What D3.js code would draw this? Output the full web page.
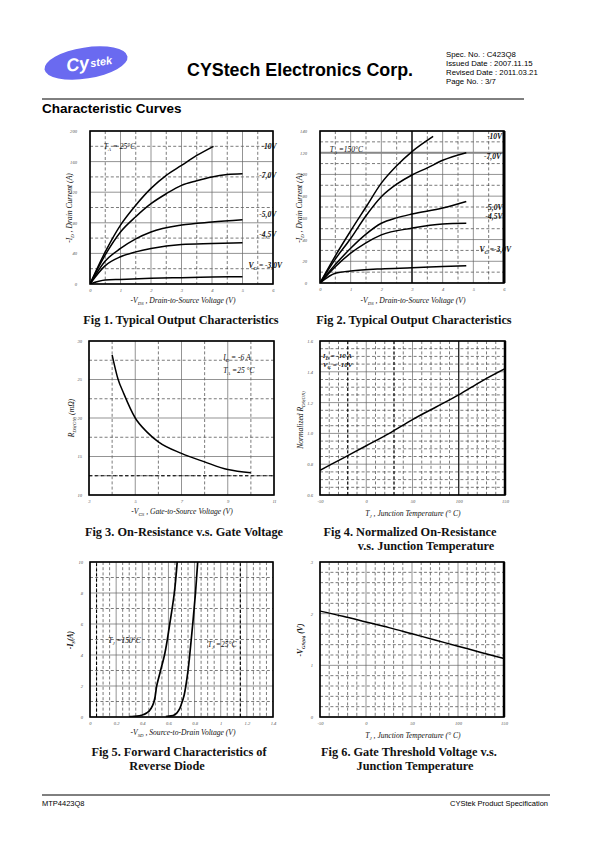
<!DOCTYPE html>
<html><head><meta charset="utf-8">
<script src="https://cdn.jsdelivr.net/npm/d3@7/dist/d3.min.js"></script>
<style>
html,body{margin:0;padding:0;background:#fff;}
svg{display:block;}
</style></head>
<body><div id="chart"></div>
<script>
// ---------------- DATA ----------------
// Fig 1: Typical Output Characteristics (TA=25°C)
const fig1Vds10 = [0, 0.5, 1, 1.5, 2, 2.5, 3, 3.5, 4.05];
const fig1Id10  = [0, 42, 77, 103, 125, 142, 155, 168, 180];
const fig1Vds7  = [0, 0.5, 1, 1.5, 2, 2.5, 3, 3.5, 4, 4.5, 5];
const fig1Id7   = [0, 38, 68, 88, 105, 118, 129, 135, 140, 143, 144];
const fig1Vds5  = [0, 0.5, 1, 1.5, 2, 3, 4, 5];
const fig1Id5   = [0, 30, 46.5, 59, 68, 77, 81, 84];
const fig1Vds45 = [0, 0.5, 1, 1.5, 2, 3, 4, 5];
const fig1Id45  = [0, 24, 35.6, 42, 46.5, 51.7, 53, 54];
const fig1Vds3  = [0, 0.5, 1, 2, 3, 4, 5];
const fig1Id3   = [0, 5.2, 6, 7.4, 8.3, 9, 9.6];
const fig1Labels = ["-10V", "-7,0V", "-5,0V", "-4,5V", "-3,0V"];
const fig1XTicks = [0, 1, 2, 3, 4, 5, 6];
const fig1YTicks = [0, 40, 80, 120, 160, 200];

// Fig 2: Typical Output Characteristics (TA=150°C)
const fig2Vds10 = [0, 0.5, 1, 1.5, 2, 2.5, 3, 3.69];
const fig2Id10  = [0, 25, 48, 70, 92, 108, 121, 135];
const fig2Vds7  = [0, 0.5, 1, 1.5, 2, 2.5, 3, 3.5, 4, 4.77];
const fig2Id7   = [0, 22, 41, 62, 79.5, 91, 99.5, 106, 113, 120];
const fig2Vds5  = [0, 0.5, 1, 1.5, 2, 2.5, 3, 4, 4.77];
const fig2Id5   = [0, 17, 32, 45, 55, 60, 63.5, 69, 75];
const fig2Vds45 = [0, 0.5, 1, 1.5, 2, 3, 4, 4.77];
const fig2Id45  = [0, 15, 27.5, 37, 44.3, 50.5, 54.4, 55];
const fig2Vds3  = [0, 0.5, 1, 2, 3, 4, 4.77];
const fig2Id3   = [0, 9, 11, 13, 14, 15.2, 16];
const fig2XTicks = [0, 1, 2, 3, 4, 5, 6];
const fig2YTicks = [0, 20, 40, 60, 80, 100, 120, 140];

// Fig 3: On-Resistance vs Gate Voltage
const fig3Vgs  = [4, 4.25, 4.5, 5, 5.5, 6, 7, 8, 9, 10];
const fig3Rds  = [28.2, 25.1, 23.2, 20, 18.2, 16.9, 15.4, 14.3, 13.3, 12.9];
const fig3XTicks = [3, 5, 7, 9, 11];
const fig3YTicks = [10, 15, 20, 25, 30];

// Fig 4: Normalized On-Resistance vs Junction Temperature
const fig4Tj   = [-50, -25, 0, 25, 50, 75, 100, 125, 150];
const fig4Rn   = [0.76, 0.84, 0.92, 1.0, 1.09, 1.17, 1.25, 1.34, 1.42];
const fig4XTicks = [-50, 0, 50, 100, 150];
const fig4YTicks = [0.6, 0.8, 1.0, 1.2, 1.4, 1.6];

// Fig 5: Forward Characteristics of Reverse Diode
const fig5Vsd150 = [0.30, 0.36, 0.40, 0.44, 0.47, 0.49, 0.51, 0.54, 0.57, 0.61, 0.645, 0.667];
const fig5Is150  = [0.02, 0.06, 0.13, 0.3, 0.6, 1.0, 2.0, 3.0, 4.0, 6.0, 8.0, 10];
const fig5Vsd25  = [0.58, 0.62, 0.65, 0.68, 0.70, 0.72, 0.733, 0.75, 0.763, 0.786, 0.807, 0.824];
const fig5Is25   = [0.02, 0.07, 0.16, 0.45, 0.85, 1.4, 2, 3, 4, 6, 8, 10];
const fig5XTicks = [0, 0.2, 0.4, 0.6, 0.8, 1, 1.2, 1.4];
const fig5YTicks = [0, 2, 4, 6, 8, 10];

// Fig 6: Gate Threshold Voltage vs Junction Temperature
const fig6Tj   = [-50, -25, 0, 25, 50, 75, 100, 125, 150];
const fig6Vth  = [2.05, 1.95, 1.84, 1.73, 1.61, 1.49, 1.37, 1.25, 1.13];
const fig6XTicks = [-50, 0, 50, 100, 150];
const fig6YTicks = [0, 1, 2, 3];

// ---------------- DRAWING ----------------
const W = 595, H = 842;
const svg = d3.select("#chart").append("svg").attr("width", W).attr("height", H);
const SERIF = "'Liberation Serif','DejaVu Serif',serif";
const SANS = "'Liberation Sans',Arial,sans-serif";

// Header
const logo = svg.append("g").attr("transform", "translate(86,63) rotate(-9)");
logo.append("ellipse").attr("rx", 42).attr("ry", 15.5).attr("fill", "#6a6af0");
logo.append("text").attr("x", -20).attr("y", 6).attr("fill", "#fff")
  .attr("font-family", SANS).attr("font-weight", "bold").attr("font-size", 18)
  .attr("font-style", "italic").text("Cy");
logo.append("text").attr("x", 4).attr("y", 5).attr("fill", "#fff")
  .attr("font-family", SANS).attr("font-weight", "bold").attr("font-size", 11)
  .attr("font-style", "italic").text("stek");
svg.append("text").attr("x", 187).attr("y", 76).attr("font-family", SANS)
  .attr("font-weight", "bold").attr("font-size", 18).attr("textLength", 226)
  .attr("lengthAdjust", "spacingAndGlyphs").text("CYStech Electronics Corp.");
const specLines = ["Spec. No. : C423Q8", "Issued Date : 2007.11.15", "Revised Date : 2011.03.21", "Page No. : 3/7"];
svg.append("g").selectAll("text").data(specLines).join("text")
  .attr("x", 446).attr("y", (d, i) => 57 + i * 9)
  .attr("font-family", SANS).attr("font-size", 7.8).text(d => d);
svg.append("line").attr("x1", 42).attr("x2", 524).attr("y1", 99).attr("y2", 99)
  .attr("stroke", "#000").attr("stroke-width", 1);
svg.append("text").attr("x", 42).attr("y", 113).attr("font-family", SANS)
  .attr("font-weight", "bold").attr("font-size", 13.5).text("Characteristic Curves");

// Footer
svg.append("line").attr("x1", 42).attr("x2", 550).attr("y1", 795).attr("y2", 795)
  .attr("stroke", "#000").attr("stroke-width", 1);
svg.append("text").attr("x", 42).attr("y", 806).attr("font-family", SANS)
  .attr("font-size", 7.5).text("MTP4423Q8");
svg.append("text").attr("x", 548).attr("y", 806).attr("text-anchor", "end")
  .attr("font-family", SANS).attr("font-size", 7.5).text("CYStek Product Specification");

// helper: rich text with subscripts; parts = [[text, isSub], ...]
function rich(sel, parts, subSize) {
  parts.forEach((p, i) => {
    const t = sel.append("tspan").text(p[0]);
    if (p[1]) t.attr("font-size", subSize || 5).attr("dy", 2);
    else if (i > 0 && parts[i - 1][1]) t.attr("dy", -2);
  });
  return sel;
}

function range(a, b, step) {
  const out = [];
  for (let v = a; v <= b + step / 1000; v += step) out.push(+v.toFixed(6));
  return out;
}

function panel(cfg) {
  const g = svg.append("g");
  const x = d3.scaleLinear().domain(cfg.xDomain).range([cfg.left, cfg.right]);
  const y = d3.scaleLinear().domain(cfg.yDomain).range([cfg.bottom, cfg.top]);
  const grid = g.append("g");
  grid.append("g").selectAll("line").data(cfg.xMinor).join("line")
    .attr("x1", d => x(d)).attr("x2", d => x(d)).attr("y1", cfg.top).attr("y2", cfg.bottom)
    .attr("stroke", "#222").attr("stroke-width", 0.6).attr("stroke-dasharray", "3,2.2");
  grid.append("g").selectAll("line").data(cfg.yMinor).join("line")
    .attr("x1", cfg.left).attr("x2", cfg.right).attr("y1", d => y(d)).attr("y2", d => y(d))
    .attr("stroke", "#222").attr("stroke-width", 0.6).attr("stroke-dasharray", "3,2.2");
  grid.append("g").selectAll("line").data(cfg.xMajor).join("line")
    .attr("x1", d => x(d)).attr("x2", d => x(d)).attr("y1", cfg.top).attr("y2", cfg.bottom)
    .attr("stroke", "#666").attr("stroke-width", 0.7);
  grid.append("g").selectAll("line").data(cfg.yMajor).join("line")
    .attr("x1", cfg.left).attr("x2", cfg.right).attr("y1", d => y(d)).attr("y2", d => y(d))
    .attr("stroke", "#666").attr("stroke-width", 0.7);
  const ax = g.append("g").attr("transform", `translate(0,${cfg.bottom})`)
    .call(d3.axisBottom(x).tickValues(cfg.xTicks).tickSize(0).tickPadding(5)
      .tickFormat(cfg.xFormat || (d => d)));
  const ay = g.append("g").attr("transform", `translate(${cfg.left - (cfg.yPad || 0)},0)`)
    .call(d3.axisLeft(y).tickValues(cfg.yTicks).tickSize(0).tickPadding(5)
      .tickFormat(cfg.yFormat || (d => d)));
  [ax, ay].forEach(a => {
    a.select(".domain").remove();
    a.selectAll("text").attr("font-family", SERIF).attr("font-style", "italic")
      .attr("font-size", 4.6).attr("fill", "#555");
  });
  const clipId = "clip" + Math.round(cfg.left) + "_" + Math.round(cfg.top);
  g.append("clipPath").attr("id", clipId).append("rect")
    .attr("x", cfg.left).attr("y", cfg.top).attr("width", cfg.right - cfg.left).attr("height", cfg.bottom - cfg.top);
  const extra = g.append("g");
  const plot = g.append("g").attr("clip-path", `url(#${clipId})`);
  g.append("rect").attr("x", cfg.left).attr("y", cfg.top)
    .attr("width", cfg.right - cfg.left).attr("height", cfg.bottom - cfg.top)
    .attr("fill", "none").attr("stroke", "#000").attr("stroke-width", 1.6);
  return { g, x, y, plot, extra };
}

function curve(p, xs, ys, curveType, sw) {
  const pts = xs.map((v, i) => [v, ys[i]]);
  p.plot.append("path").datum(pts)
    .attr("d", d3.line().x(d => p.x(d[0])).y(d => p.y(d[1])).curve(curveType || d3.curveMonotoneX))
    .attr("fill", "none").attr("stroke", "#000").attr("stroke-width", sw || 1.5);
}

function vline(p, v, stroke, sw, dash) {
  const [y0, y1] = p.y.domain();
  const l = p.extra.append("line").attr("x1", p.x(v)).attr("x2", p.x(v)).attr("y1", p.y(y0)).attr("y2", p.y(y1))
    .attr("stroke", stroke).attr("stroke-width", sw);
  if (dash) l.attr("stroke-dasharray", dash);
}
function hline(p, v, stroke, sw, dash) {
  const [x0, x1] = p.x.domain();
  const l = p.extra.append("line").attr("x1", p.x(x0)).attr("x2", p.x(x1)).attr("y1", p.y(v)).attr("y2", p.y(v))
    .attr("stroke", stroke).attr("stroke-width", sw);
  if (dash) l.attr("stroke-dasharray", dash);
}

function label(p, xv, yv, parts, opts) {
  opts = opts || {};
  const t = p.g.append("text").attr("x", p.x(xv)).attr("y", p.y(yv))
    .attr("font-family", SERIF).attr("font-style", "italic").attr("font-weight", opts.bold === false ? "normal" : "bold")
    .attr("font-size", opts.size || 7.5).attr("fill", "#111");
  rich(t, parts, 4.8);
  return t;
}

function xTitle(cx, y, parts) {
  const t = svg.append("text").attr("x", cx).attr("y", y).attr("text-anchor", "middle")
    .attr("font-family", SERIF).attr("font-style", "italic").attr("font-size", 7.6).attr("fill", "#111");
  rich(t, parts, 4.8);
}
function yTitle(x, cy, parts, bold) {
  const t = svg.append("text").attr("transform", `translate(${x},${cy}) rotate(-90)`).attr("text-anchor", "middle")
    .attr("font-family", SERIF).attr("font-style", "italic").attr("font-size", 7.6).attr("fill", "#111")
    .attr("font-weight", bold ? "bold" : "normal");
  rich(t, parts, 4.8);
}
function caption(lines, x, y, anchor) {
  svg.append("g").selectAll("text").data(lines).join("text")
    .attr("x", (d, i) => Array.isArray(x) ? x[i] : x).attr("y", (d, i) => y + i * 14)
    .attr("text-anchor", anchor || "middle")
    .attr("font-family", SERIF).attr("font-weight", "bold").attr("font-size", 12.3).attr("fill", "#111")
    .text(d => d);
}

// ---- Fig 1 ----
const p1 = panel({
  left: 90, right: 273, top: 131, bottom: 284, xDomain: [0, 6], yDomain: [0, 200],
  xMajor: range(0, 6, 1), xMinor: range(0.5, 5.5, 1), yMajor: range(0, 200, 40), yMinor: range(20, 180, 40),
  xTicks: fig1XTicks, yTicks: fig1YTicks, yPad: 8
});
curve(p1, fig1Vds10, fig1Id10); curve(p1, fig1Vds7, fig1Id7); curve(p1, fig1Vds5, fig1Id5);
curve(p1, fig1Vds45, fig1Id45); curve(p1, fig1Vds3, fig1Id3);
label(p1, 5.62, 177, [[fig1Labels[0]]]);
label(p1, 5.55, 138, [[fig1Labels[1]]]);
label(p1, 5.55, 88, [[fig1Labels[2]]]);
label(p1, 5.55, 61, [[fig1Labels[3]]]);
label(p1, 5.2, 21, [["V"], ["G", 1], [" = " + fig1Labels[4]]]);
label(p1, 0.45, 176, [["T"], ["A", 1], [" = 25°C"]], { bold: false });
xTitle(183, 303, [["-V"], ["DS", 1], [" , Drain-to-Source Voltage (V)"]]);
yTitle(72, 208, [["-I"], ["D", 1], [" , Drain Current (A)"]]);
caption(["Fig 1. Typical Output Characteristics"], 181, 324);

// ---- Fig 2 ----
const p2 = panel({
  left: 320, right: 504, top: 131, bottom: 283, xDomain: [0, 6], yDomain: [0, 140],
  xMajor: range(0, 6, 1), xMinor: range(0.5, 5.5, 1), yMajor: range(0, 140, 20), yMinor: range(10, 130, 20),
  xTicks: fig2XTicks, yTicks: fig2YTicks, yPad: 8
});
hline(p2, 120, "#888", 2);
vline(p2, 3, "#000", 1.3);
vline(p2, 6, "#000", 3);
curve(p2, fig2Vds10, fig2Id10); curve(p2, fig2Vds7, fig2Id7); curve(p2, fig2Vds5, fig2Id5);
curve(p2, fig2Vds45, fig2Id45); curve(p2, fig2Vds3, fig2Id3);
label(p2, 5.45, 133, [["-10V"]]);
label(p2, 5.35, 114, [["-7,0V"]]);
label(p2, 5.4, 67, [["-5,0V"]]);
label(p2, 5.4, 59, [["-4,5V"]]);
label(p2, 5.2, 29, [["V"], ["G", 1], [" =-3,0V"]]);
label(p2, 0.32, 120.5, [["T"], ["A", 1], [" =150°C"]], { bold: false });
xTitle(413, 303, [["-V"], ["DS", 1], [" , Drain-to-Source Voltage (V)"]]);
yTitle(302, 208, [["-I"], ["D", 1], [" , Drain Current (A)"]]);
caption(["Fig 2. Typical Output Characteristics"], 414, 324);

// ---- Fig 3 ----
const p3 = panel({
  left: 89, right: 274, top: 341, bottom: 495, xDomain: [3, 11], yDomain: [10, 30],
  xMajor: fig3XTicks, xMinor: [4, 6, 8, 10], yMajor: fig3YTicks, yMinor: [12.5, 17.5, 22.5, 27.5],
  xTicks: fig3XTicks, yTicks: fig3YTicks, yPad: 2
});
hline(p3, 12.5, "#000", 1.1, "3.5,2.5");
curve(p3, fig3Vgs, fig3Rds);
label(p3, 8.8, 27.5, [["I"], ["D", 1], [" = -6 A"]], { bold: false });
label(p3, 8.8, 25.9, [["T"], ["A", 1], [" =25 °C"]], { bold: false });
xTitle(182, 514, [["-V"], ["GS", 1], [" , Gate-to-Source Voltage (V)"]]);
yTitle(74, 418, [["R"], ["DS(ON)", 1], [" (mΩ)"]]);
caption(["Fig 3. On-Resistance v.s. Gate Voltage"], 184, 536);

// ---- Fig 4 ----
const p4 = panel({
  left: 320, right: 505, top: 341, bottom: 495, xDomain: [-50, 150], yDomain: [0.6, 1.6],
  xMajor: fig4XTicks, xMinor: range(-40, 140, 10).filter(v => v % 50 !== 0),
  yMajor: fig4YTicks, yMinor: range(0.65, 1.55, 0.05).filter(v => Math.abs(Math.round(v * 5) - v * 5) > 0.01),
  xTicks: fig4XTicks, yTicks: fig4YTicks, yPad: 2, yFormat: d3.format(".1f")
});
vline(p4, -20, "#000", 1, "3,2.2");
vline(p4, 30, "#000", 1, "3,2.2");
vline(p4, 100, "#000", 1);
vline(p4, 150, "#000", 2.5);
curve(p4, fig4Tj, fig4Rn);
label(p4, -47, 1.49, [["I"], ["D", 1], [" = -10 A"]], { size: 7 });
label(p4, -47, 1.43, [["V"], ["G", 1], [" = -10V"]], { size: 7 });
xTitle(413, 516, [["T"], ["J", 1], [" , Junction Temperature (° C)"]]);
yTitle(303, 420, [["Normalized R"], ["DS(ON)", 1]]);
caption(["Fig 4. Normalized On-Resistance", "v.s. Junction Temperature"], [410, 426], 536);

// ---- Fig 5 ----
const p5 = panel({
  left: 90, right: 273, top: 562, bottom: 717, xDomain: [0, 1.4], yDomain: [0, 10],
  xMajor: fig5XTicks, xMinor: range(0.05, 1.35, 0.05).filter(v => Math.abs(Math.round(v * 5) - v * 5) > 0.01),
  yMajor: fig5YTicks, yMinor: [1, 3, 5, 7, 9],
  xTicks: fig5XTicks, yTicks: fig5YTicks, yPad: 2
});
vline(p5, 0.05, "#000", 1.1, "3,2.2");
vline(p5, 1.15, "#000", 1.1, "3,2.2");
curve(p5, fig5Vsd150, fig5Is150, d3.curveMonotoneY, 1.7);
curve(p5, fig5Vsd25, fig5Is25, d3.curveMonotoneY, 1.7);
label(p5, 0.14, 4.75, [["T"], ["J", 1], [" =150°C"]], { bold: false });
label(p5, 0.9, 4.5, [["T"], ["J", 1], [" =25°C"]], { bold: false });
xTitle(183, 735, [["-V"], ["SD", 1], [" , Source-to-Drain Voltage (V)"]]);
yTitle(73, 640, [["-I"], ["S", 1], ["(A)"]], true);
caption(["Fig 5. Forward Characteristics of", "Reverse Diode"], [179, 167], 756);

// ---- Fig 6 ----
const p6 = panel({
  left: 320, right: 504, top: 562, bottom: 717, xDomain: [-50, 150], yDomain: [0, 3],
  xMajor: fig6XTicks, xMinor: range(-40, 140, 10).filter(v => v % 50 !== 0),
  yMajor: fig6YTicks, yMinor: range(0.2, 2.8, 0.2).filter(v => Math.abs(Math.round(v) - v) > 0.01),
  xTicks: fig6XTicks, yTicks: fig6YTicks, yPad: 2
});
vline(p6, 150, "#000", 2.5);
curve(p6, fig6Tj, fig6Vth);
xTitle(413, 738, [["T"], ["J", 1], [" , Junction Temperature (° C)"]]);
yTitle(303, 640, [["-V"], ["GS(th)", 1], [" (V)"]], true);
caption(["Fig 6. Gate Threshold Voltage v.s.", "Junction Temperature"], [409, 415], 756);
</script></body></html>
